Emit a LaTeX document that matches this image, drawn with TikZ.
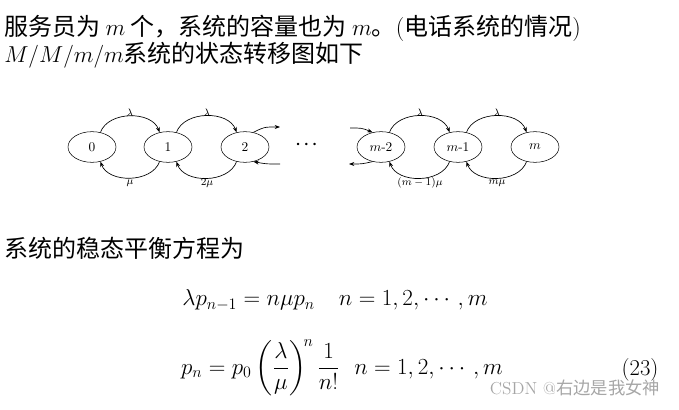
\documentclass[tikz,border=0pt]{standalone}
\usepackage{fontspec}
\usepackage{amsmath}
\newfontfamily\cjk{Noto Sans CJK SC}
\usetikzlibrary{arrows.meta,shapes.geometric}
\begin{document}
\begin{tikzpicture}[x=0.75pt,y=-0.75pt,
  st/.style={draw,ellipse,minimum width=36pt,minimum height=23pt,inner sep=0pt,font=\fontsize{10}{11}\selectfont},
  ar/.style={-{Stealth[length=4pt,width=3pt]},line width=0.5pt},
  lb/.style={font=\fontsize{8}{9}\selectfont},
  tx/.style={anchor=west,inner sep=0pt,font=\fontsize{18}{20}\selectfont}]
\useasboundingbox (0,0) rectangle (679,410);
\node[tx] (t1) at (4,28) {\cjk 服务员为 \normalfont$m$\cjk \ 个，系统的容量也为 \normalfont$m$\cjk 。\normalfont(\cjk 电话系统的情况\normalfont)};
\node[tx] (t2) at (4,55) {$M/M/m/m$\cjk 系统的状态转移图如下};
\node[st] (s0) at (92,147) {0};
\node[st] (s1) at (168,147) {1};
\node[st] (s2) at (245,147) {2};
\node (dots) at (308,145) {\large$\boldsymbol{\cdots}$};
\node[st] (s3) at (381,147) {$m$-2};
\node[st] (s4) at (458,147) {$m$-1};
\node[st] (s5) at (535,147) {$m$};
\foreach \a/\b in {s0/s1,s1/s2,s3/s4,s4/s5}{
  \draw[ar] (\a.60) to[out=70,in=110] (\b.120);
  \draw[ar] (\b.-120) to[out=-110,in=-70] (\a.-60);
}
\coordinate (o1) at (280,127);
\coordinate (o2) at (280,164);
\coordinate (o3) at (350,128);
\coordinate (o4) at (349,164);
\draw[ar] (s2.60) .. controls (264,127) .. (o1);
\draw[ar] (o2) .. controls (266,164) .. (s2.-60);
\draw[ar] (o3) .. controls (362,128) .. (s3.120);
\draw[ar] (s3.-120) .. controls (362,164) .. (o4);
\node[lb] (l1) at (130,113) {$\lambda$};
\node[lb] (l2) at (207,113) {$\lambda$};
\node[lb] (l3) at (420,113) {$\lambda$};
\node[lb] (l4) at (497,113) {$\lambda$};
\node[lb] (m1) at (130,183) {$\mu$};
\node[lb] (m2) at (207,183) {$2\mu$};
\node[lb] (m3) at (420,183) {$(m-1)\mu$};
\node[lb] (m4) at (497,183) {$m\mu$};
\node[tx] (t3) at (4,248) {\cjk 系统的稳态平衡方程为};
\node[inner sep=0pt,font=\fontsize{18}{20}\selectfont] (e1) at (335,300) {$\lambda p_{n-1}=n\mu p_n\quad n=1,2,\cdots,m$};
\node[inner sep=0pt,font=\fontsize{18}{20}\selectfont] (e2) at (342,368) {$p_n=p_0\left(\dfrac{\lambda}{\mu}\right)^{\!n}\dfrac{1}{n!}\ \ n=1,2,\cdots,m$};
\node[inner sep=0pt,font=\fontsize{17}{19}\selectfont] (eq) at (640,370) {(23)};
\node[inner sep=0pt,text=gray!70,font=\fontsize{13}{14}\selectfont] (wm) at (575,388) {CSDN @\cjk 右边是我女神};
\end{tikzpicture}
\end{document}
